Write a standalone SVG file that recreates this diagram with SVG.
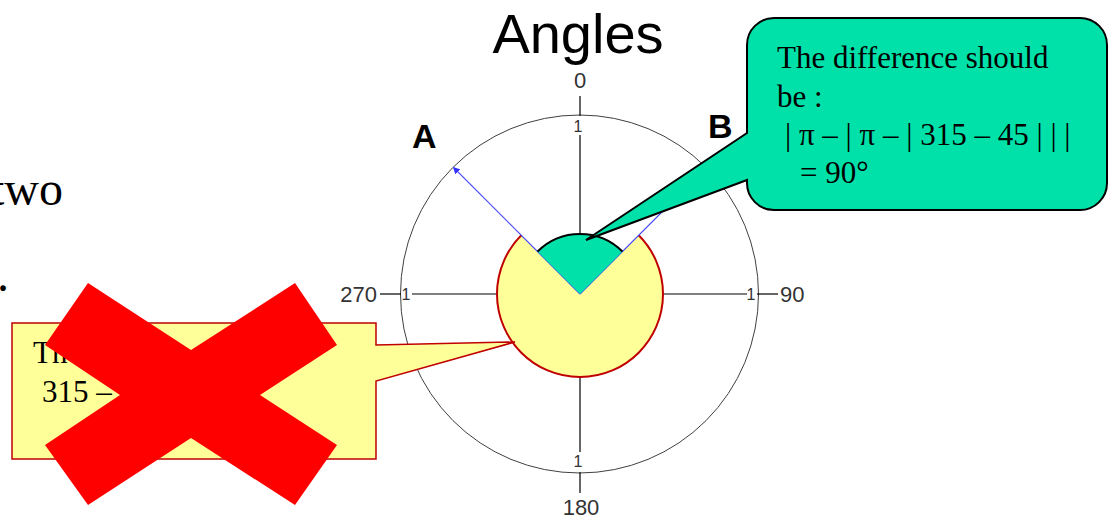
<svg xmlns="http://www.w3.org/2000/svg" width="1109" height="517" viewBox="0 0 1109 517">
<style>
.ax{stroke:#000;stroke-width:1.2;fill:none}
.lbl{font-family:"Liberation Sans",Arial,sans-serif;fill:#333;font-size:22px}
.one{font-family:"Liberation Sans",Arial,sans-serif;fill:#333;font-size:16px}
.ab{font-family:"Liberation Sans",Arial,sans-serif;font-weight:bold;font-size:34px;fill:#000}
.ser{font-family:"Liberation Serif","Times New Roman",serif;fill:#000}
.blue{stroke:#4444FF;stroke-width:1.2;fill:none}
</style>
<defs>
<marker id="ah" viewBox="0 0 10 10" refX="9" refY="5" markerWidth="7" markerHeight="7" orient="auto" markerUnits="userSpaceOnUse">
<path d="M0,0 L10,5 L0,10 Z" fill="#3333FF"/>
</marker>
</defs>
<rect width="1109" height="517" fill="#fff"/>
<g id="left-text">
<text class="ser" x="-9" y="205" font-size="48">two</text>
<text class="ser" x="-3" y="291" font-size="48">.</text>
</g>
<g id="title">
<text x="578" y="53" text-anchor="middle" font-family="Liberation Sans,Arial,sans-serif" font-size="56" fill="#000">Angles</text>
</g>
<g id="polar-axes">
<circle cx="579.5" cy="294" r="179" fill="none" stroke="#404040" stroke-width="1"/>
<line class="ax" x1="580" y1="96" x2="580" y2="116"/>
<line class="ax" x1="580" y1="135" x2="580" y2="452"/>
<line class="ax" x1="580" y1="472" x2="580" y2="493"/>
<line class="ax" x1="380" y1="294" x2="401" y2="294"/>
<line class="ax" x1="412" y1="294" x2="747" y2="294"/>
<line class="ax" x1="757" y1="294" x2="778" y2="294"/>
<text class="lbl" x="580" y="88" text-anchor="middle">0</text>
<text class="lbl" x="581" y="515" text-anchor="middle">180</text>
<text class="lbl" x="377" y="302" text-anchor="end">270</text>
<text class="lbl" x="780" y="302">90</text>
<text class="one" x="578" y="132" text-anchor="middle">1</text>
<text class="one" x="578" y="467" text-anchor="middle">1</text>
<text class="one" x="406" y="300" text-anchor="middle">1</text>
<text class="one" x="751" y="300" text-anchor="middle">1</text>
</g>
<g id="yellow-sector">
<path d="M580,294 L638.69,235.31 A83,83 0 1 1 521.31,235.31 Z" fill="#FFFF99"/>
<path d="M638.69,235.31 A83,83 0 1 1 521.31,235.31" fill="none" stroke="#C00000" stroke-width="2"/>
</g>
<g id="connectors">
<line class="blue" x1="580" y1="294" x2="453.4" y2="167.4" marker-end="url(#ah)"/>
<line class="blue" x1="580" y1="294" x2="706.6" y2="167.4" marker-end="url(#ah)"/>
</g>
<g id="green-sector">
<path d="M580,294 L537.57,251.57 A60,60 0 0 1 622.43,251.57 Z" fill="#00E1A9"/>
<path d="M537.57,251.57 A60,60 0 0 1 622.43,251.57" fill="none" stroke="#000" stroke-width="2"/>
</g>
<g id="labels-ab">
<text class="ab" x="412" y="148">A</text>
<text class="ab" x="708" y="138">B</text>
</g>
<g id="green-callout">
<path d="M774,18 H1080 A27,27 0 0 1 1107,45 V183 A27,27 0 0 1 1080,210 H774 A27,27 0 0 1 747,183 V180 L586,240 L747,133 V45 A27,27 0 0 1 774,18 Z" fill="#00E1A9" stroke="#000" stroke-width="2"/>
<text class="ser" font-size="31">
<tspan x="777" y="68">The difference should</tspan>
<tspan x="777" y="107">be :</tspan>
<tspan x="785" y="145">| π – | π – | 315 – 45 | | |</tspan>
<tspan x="800" y="183">= 90°</tspan>
</text>
</g>
<g id="yellow-callout">
<path d="M12,323 H376 V345 L515,342 L376,381 V459 H12 Z" fill="#FFFF99" stroke="#C00000" stroke-width="1.5"/>
<text class="ser" font-size="31">
<tspan x="33" y="363">Th</tspan>
<tspan x="42" y="402">315 –</tspan>
</text>
</g>
<g id="red-x">
<polygon points="88,283 191,350 295,283 337,345 260,395 337,445 295,505 191,438 88,505 45,445 120,395 45,345" fill="#FF0000"/>
</g>
</svg>
